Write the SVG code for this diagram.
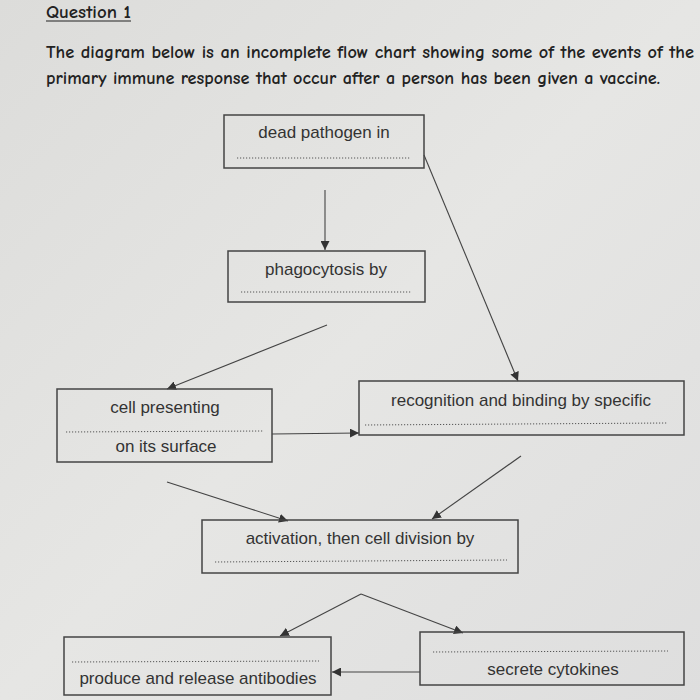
<svg xmlns="http://www.w3.org/2000/svg" width="700" height="700" viewBox="0 0 700 700">
<defs>
<linearGradient id="bg" x1="0" y1="0" x2="1" y2="1">
<stop offset="0" stop-color="#dcdcda"/>
<stop offset="0.5" stop-color="#e6e6e4"/>
<stop offset="1" stop-color="#dedede"/>
</linearGradient>
<marker id="ah" viewBox="0 0 10 10" refX="10" refY="5" markerWidth="9" markerHeight="9" markerUnits="userSpaceOnUse" orient="auto">
<path d="M0,0 L10,5 L0,10 Z" fill="#333"/>
</marker>
<style>
.box{fill:none;stroke:#444;stroke-width:1.5}
.dot{stroke:#555;stroke-width:1;stroke-dasharray:1.2 1.8}
.t{font-family:"Liberation Sans",Arial,sans-serif;font-size:17px;fill:#333;text-anchor:middle}
.h{font-family:"Comic Neue","DejaVu Sans",sans-serif;font-size:18px;font-weight:bold;fill:#222}
.c{stroke:#444;stroke-width:1.1;fill:none;marker-end:url(#ah)}
</style>
</defs>
<rect width="700" height="700" fill="url(#bg)"/>
<g id="header">
<text class="h" x="46" y="18" textLength="85" lengthAdjust="spacingAndGlyphs">Question 1</text>
<line x1="46" y1="21" x2="131" y2="21" stroke="#222" stroke-width="1.2"/>
<text class="h" x="46" y="58" textLength="648" lengthAdjust="spacingAndGlyphs">The diagram below is an incomplete flow chart showing some of the events of the</text>
<text class="h" x="46" y="84" textLength="614" lengthAdjust="spacingAndGlyphs">primary immune response that occur after a person has been given a vaccine.</text>
</g>
<g id="connectors">
<line class="c" x1="325" y1="190" x2="325" y2="250"/>
<line class="c" x1="424" y1="155" x2="518" y2="381"/>
<line class="c" x1="327" y1="325" x2="167" y2="389"/>
<line class="c" x1="272" y1="434" x2="359" y2="433"/>
<line class="c" x1="521" y1="456" x2="432" y2="519"/>
<line class="c" x1="167" y1="482" x2="288" y2="521"/>
<line class="c" x1="361" y1="594" x2="280" y2="636"/>
<line class="c" x1="361" y1="594" x2="463" y2="633"/>
<line class="c" x1="420" y1="672" x2="332" y2="672"/>
</g>
<g id="n1">
<rect class="box" x="224" y="115" width="200" height="53"/>
<text class="t" x="324" y="138">dead pathogen in</text>
<line class="dot" x1="237" y1="158" x2="411" y2="158"/>
</g>
<g id="n2">
<rect class="box" x="228" y="251" width="197" height="51"/>
<text class="t" x="326" y="275">phagocytosis by</text>
<line class="dot" x1="241" y1="292" x2="412" y2="292"/>
</g>
<g id="n3">
<rect class="box" x="57" y="389" width="215" height="73"/>
<text class="t" x="165" y="413">cell presenting</text>
<line class="dot" x1="66" y1="432" x2="264" y2="431"/>
<text class="t" x="166" y="452">on its surface</text>
</g>
<g id="n4">
<rect class="box" x="359" y="381" width="325" height="54"/>
<text class="t" x="521" y="406">recognition and binding by specific</text>
<line class="dot" x1="365" y1="425" x2="667" y2="423"/>
</g>
<g id="n5">
<rect class="box" x="202" y="520" width="316" height="53"/>
<text class="t" x="360" y="544">activation, then cell division by</text>
<line class="dot" x1="215" y1="562" x2="507" y2="560"/>
</g>
<g id="n6">
<rect class="box" x="64" y="637" width="267" height="58"/>
<line class="dot" x1="72" y1="662" x2="319" y2="661"/>
<text class="t" x="198" y="684">produce and release antibodies</text>
</g>
<g id="n7">
<rect class="box" x="420" y="632" width="264" height="53"/>
<line class="dot" x1="433" y1="652" x2="668" y2="651"/>
<text class="t" x="553" y="675">secrete cytokines</text>
</g>
</svg>
